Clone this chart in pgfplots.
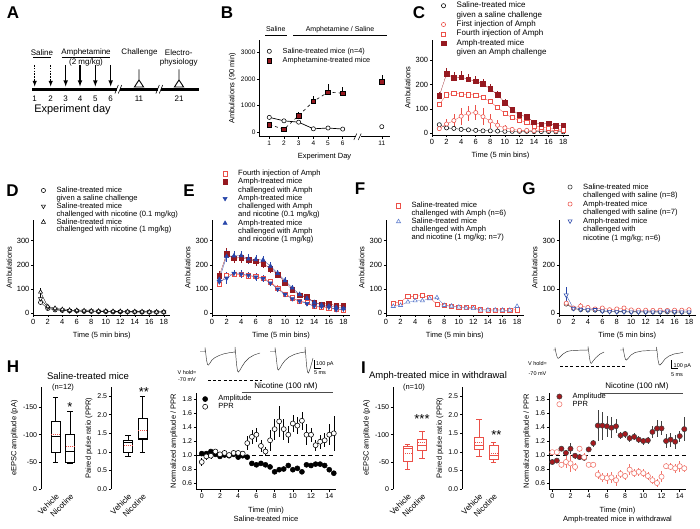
\documentclass[border=0pt]{standalone}
\usepackage{fontspec}
\setmainfont{Liberation Sans}
\usepackage{pgfplots}
\pgfplotsset{compat=1.18}
\usepgfplotslibrary{statistics}
\definecolor{dred}{RGB}{150,25,32}
\definecolor{lred}{RGB}{235,80,72}
\definecolor{mblue}{RGB}{40,70,170}
\definecolor{lblue}{RGB}{95,125,205}
\definecolor{pred}{RGB}{240,115,105}
\definecolor{ired}{RGB}{165,25,30}
\pgfplotsset{
  base/.style={scale only axis, anchor=north west, clip=false,
    axis x line*=bottom, axis y line*=left, tick align=outside,
    major tick length=2.2pt, tick style={black, line width=0.5pt},
    axis line style={black, line width=0.6pt},
    tick label style={font=\fontsize{7}{8}\selectfont, inner sep=1.5pt},
    label style={font=\fontsize{7.5}{9}\selectfont},
    /pgf/number format/assume math mode=true,
    /pgf/number format/1000 sep={},
    legend cell align=left,
    legend image code/.code={\path (-3pt,0pt) (13pt,0pt); \draw[##1] plot[only marks] coordinates {(0pt,0pt)};}},
  leg/.style n args={3}{legend style={at={(#1,#2)}, anchor=north west, draw=none, fill=none, inner sep=0pt, outer sep=0pt, row sep=#3, font=\fontsize{7.6}{8}\selectfont, nodes={inner sep=0pt, text height=5.2pt, text depth=1.3pt}}},
  ser/.style n args={5}{draw=#1, line width=0.3pt, mark=#2, mark size=#3, mark options={solid, draw=#1, fill=#4, line width=0.55pt, #5}, error bars/y dir=both, error bars/y explicit, error bars/error mark=none, error bars/error bar style={draw=#1, line width=0.55pt, solid}},
  amb/.style={base, width=137pt, height=95pt, xmin=0, xmax=18.9, ymin=-7, ymax=385.5, xtick={0,2,...,18}, ytick={0,100,200,300}, xlabel={Time (5 min bins)}, ylabel={Ambulations}, tick label style={font=\fontsize{7.5}{8}\selectfont}, xlabel style={yshift=-2.5pt}},
  boxax/.style={base, boxplot/draw direction=y, xtick={1,2}, xticklabels={Vehicle,Nicotine}, x axis line style={draw=none}, xtick style={draw=none}, xticklabel style={rotate=45, anchor=north east, font=\fontsize{8}{8}\selectfont, inner sep=1pt}},
  ppr/.style={ymin=0, ymax=2.742, ytick={0,0.5,1,1.5,2,2.5}, yticklabel style={/pgf/number format/.cd, fixed, fixed zerofill, precision=1}, ylabel={Paired pulse ratio (PPR)}},
  tc/.style={base, height=96.3pt, ymin=0.51, ymax=1.886, xtick={0,2,...,14}, ytick={0.6,0.8,1.0,1.2,1.4,1.6,1.8}, yticklabel style={/pgf/number format/.cd, fixed, fixed zerofill, precision=1}, ylabel={Normalized amplitude / PPR}, xlabel style={align=center, font=\fontsize{7.5}{9}\selectfont, yshift=-4pt}},
}
\begin{document}
\begin{tikzpicture}
\useasboundingbox (0pt,0pt) rectangle (700pt,-529pt);

% ================= B
\begin{axis}[base, at={(259.3pt,-40pt)}, width=130.4pt, height=96.7pt, xmin=0.32, xmax=9.2, ymin=-177, ymax=3463,
  xtick={1,2,3,4,5,6,8.66}, xticklabels={1,2,3,4,5,6,11}, ytick={0,1000,2000,3000},
  tick label style={font=\fontsize{6.5}{7}\selectfont},
  xlabel={Experiment Day}, xlabel style={yshift=-2.5pt}, ylabel={Ambulations (90 min)}, leg={0.051}{0.917}{2.9pt}, legend style={font=\fontsize{7.3}{8}\selectfont}]
\addplot[ser={black}{*}{2.1pt}{white}{}, line width=0.7pt] coordinates {(1,550)+-(0,0) (2,420)+-(0,0) (3,370)+-(0,0) (4,120)+-(0,0) (5,150)+-(0,0) (6,110)+-(0,0)};
\addlegendentry{Saline-treated mice (n=4)}
\addplot[ser={black}{square*}{2.3pt}{dred}{}, line width=0.6pt, dashed, error bars/y dir=plus] coordinates {(1,280)+-(0,0) (2,100)+-(0,0) (3,620)+-(0,150) (4,1150)+-(0,200) (5,1500)+-(0,300) (6,1460)+-(0,250)};
\addlegendentry{Amphetamine-treated mice}
\addplot[ser={black}{*}{2.1pt}{white}{}, forget plot] coordinates {(8.66,200)+-(0,0)};
\addplot[ser={black}{square*}{2.3pt}{dred}{}, error bars/y dir=plus, forget plot] coordinates {(8.66,1900)+-(0,250)};
\end{axis}

% ================= C
\begin{axis}[base, at={(432pt,-40pt)}, width=137pt, height=95pt, xmin=0, xmax=18.8, ymin=-7, ymax=382,
  xtick={0,2,...,18}, ytick={0,100,200,300}, tick label style={font=\fontsize{7.5}{8}\selectfont}, xlabel style={yshift=-2.5pt},
  xlabel={Time (5 min bins)}, ylabel={Ambulations}, leg={0.061}{1.395}{2.9pt}, legend style={font=\fontsize{8}{8}\selectfont}]
\addplot[ser={black}{*}{2.1pt}{white}{}] coordinates {(1,35)+-(0,6) (2,22)+-(0,4) (3,20)+-(0,4) (4,16)+-(0,3) (5,14)+-(0,3) (6,12)+-(0,3) (7,10)+-(0,3) (8,10)+-(0,3) (9,9)+-(0,2) (10,8)+-(0,2) (11,8)+-(0,2) (12,8)+-(0,2) (13,8)+-(0,2) (14,7)+-(0,2) (15,7)+-(0,2) (16,7)+-(0,2) (17,6)+-(0,2) (18,6)+-(0,2)};
\addlegendentry{Saline-treated mice}
\addlegendimage{empty legend}\addlegendentry{given a saline challenge}
\addplot[ser={lred}{*}{2.1pt}{white}{}] coordinates {(1,19)+-(0,8) (2,38)+-(0,20) (3,52)+-(0,25) (4,70)+-(0,35) (5,82)+-(0,30) (6,85)+-(0,30) (7,68)+-(0,35) (8,50)+-(0,30) (9,33)+-(0,20) (10,22)+-(0,12) (11,16)+-(0,8) (12,12)+-(0,6) (13,12)+-(0,5) (14,10)+-(0,5) (15,15)+-(0,15) (16,12)+-(0,8) (17,10)+-(0,5) (18,10)+-(0,5)};
\addlegendentry{First injection of Amph}
\addplot[ser={lred}{square*}{2.1pt}{white}{}] coordinates {(1,119)+-(0,10) (2,158)+-(0,10) (3,164)+-(0,10) (4,161)+-(0,10) (5,158)+-(0,10) (6,157)+-(0,10) (7,146)+-(0,10) (8,130)+-(0,10) (9,105)+-(0,10) (10,81)+-(0,8) (11,64)+-(0,8) (12,53)+-(0,6) (13,46)+-(0,6) (14,29)+-(0,5) (15,26)+-(0,5) (16,22)+-(0,5) (17,19)+-(0,4) (18,14)+-(0,4)};
\addlegendentry{Fourth injection of Amph}
\addplot[ser={dred}{square*}{2.3pt}{dred}{}, error bars/y dir=plus] coordinates {(1,153)+-(0,15) (2,243)+-(0,25) (3,227)+-(0,25) (4,230)+-(0,25) (5,221)+-(0,22) (6,213)+-(0,22) (7,202)+-(0,20) (8,182)+-(0,20) (9,157)+-(0,18) (10,126)+-(0,15) (11,96)+-(0,12) (12,75)+-(0,10) (13,68)+-(0,10) (14,45)+-(0,8) (15,37)+-(0,8) (16,41)+-(0,8) (17,30)+-(0,6) (18,33)+-(0,6)};
\addlegendentry{Amph-treated mice}
\addlegendimage{empty legend}\addlegendentry{given an Amph challenge}
\end{axis}

% ================= D
\begin{axis}[amb, at={(33.3pt,-220pt)}, leg={0.051}{1.345}{1.4pt}]
\addplot[ser={black}{*}{2.1pt}{white}{}] coordinates {(1,45)+-(0,12) (2,20)+-(0,5) (3,14)+-(0,3) (4,12)+-(0,3) (5,10)+-(0,2) (6,10)+-(0,2) (7,8)+-(0,2) (8,8)+-(0,2) (9,7)+-(0,2) (10,7)+-(0,2) (11,6)+-(0,2) (12,6)+-(0,2) (13,6)+-(0,2) (14,6)+-(0,2) (15,5)+-(0,2) (16,5)+-(0,2) (17,5)+-(0,2) (18,5)+-(0,2)};
\addlegendentry{Saline-treated mice}
\addlegendimage{empty legend}\addlegendentry{given a saline challenge}
\addplot[ser={black}{triangle*}{2.4pt}{white}{rotate=180}] coordinates {(1,60)+-(0,12) (2,25)+-(0,6) (3,17)+-(0,3) (4,13)+-(0,3) (5,11)+-(0,2) (6,10)+-(0,2) (7,9)+-(0,2) (8,9)+-(0,2) (9,8)+-(0,2) (10,8)+-(0,2) (11,7)+-(0,2) (12,7)+-(0,2) (13,6)+-(0,2) (14,6)+-(0,2) (15,6)+-(0,2) (16,6)+-(0,2) (17,5)+-(0,2) (18,5)+-(0,2)};
\addlegendentry{Saline-treated mice}
\addlegendimage{empty legend}\addlegendentry{challenged with nicotine (0.1 mg/kg)}
\addplot[ser={black}{triangle*}{2.4pt}{white}{}] coordinates {(1,88)+-(0,15) (2,28)+-(0,6) (3,21)+-(0,3) (4,16)+-(0,3) (5,13)+-(0,2) (6,12)+-(0,2) (7,11)+-(0,2) (8,10)+-(0,2) (9,9)+-(0,2) (10,9)+-(0,2) (11,8)+-(0,2) (12,8)+-(0,2) (13,7)+-(0,2) (14,7)+-(0,2) (15,7)+-(0,2) (16,6)+-(0,2) (17,6)+-(0,2) (18,6)+-(0,2)};
\addlegendentry{Saline-treated mice}
\addlegendimage{empty legend}\addlegendentry{challenged with nicotine (1 mg/kg)}
\end{axis}

% ================= E
\begin{axis}[amb, at={(212pt,-220pt)}, width=138pt, leg={0.072}{1.521}{1.75pt}]
\addplot[ser={lred}{square*}{2.1pt}{white}{}] coordinates {(1,120)+-(0,12) (2,158)+-(0,12) (3,162)+-(0,12) (4,160)+-(0,12) (5,155)+-(0,12) (6,153)+-(0,12) (7,145)+-(0,12) (8,130)+-(0,10) (9,105)+-(0,10) (10,80)+-(0,8) (11,64)+-(0,8) (12,50)+-(0,6) (13,45)+-(0,6) (14,28)+-(0,5) (15,25)+-(0,5) (16,22)+-(0,5) (17,18)+-(0,4) (18,15)+-(0,4)};
\addlegendentry{Fourth injection of Amph}
\addplot[ser={dred}{square*}{2.3pt}{dred}{}] coordinates {(1,155)+-(0,18) (2,245)+-(0,25) (3,228)+-(0,22) (4,230)+-(0,22) (5,222)+-(0,20) (6,215)+-(0,20) (7,205)+-(0,18) (8,185)+-(0,18) (9,160)+-(0,15) (10,127)+-(0,15) (11,97)+-(0,12) (12,75)+-(0,10) (13,68)+-(0,10) (14,45)+-(0,8) (15,37)+-(0,8) (16,41)+-(0,8) (17,30)+-(0,6) (18,33)+-(0,6)};
\addlegendentry{Amph-treated mice}
\addlegendimage{empty legend}\addlegendentry{challenged with Amph}
\addplot[ser={mblue}{triangle*}{2.4pt}{mblue}{rotate=180}] coordinates {(1,130)+-(0,18) (2,145)+-(0,25) (3,165)+-(0,15) (4,162)+-(0,15) (5,157)+-(0,15) (6,150)+-(0,15) (7,143)+-(0,15) (8,125)+-(0,12) (9,100)+-(0,12) (10,78)+-(0,10) (11,60)+-(0,10) (12,50)+-(0,8) (13,40)+-(0,8) (14,30)+-(0,6) (15,28)+-(0,6) (16,25)+-(0,6) (17,15)+-(0,5) (18,18)+-(0,5)};
\addlegendentry{Amph-treated mice}
\addlegendimage{empty legend}\addlegendentry{challenged with Amph}
\addlegendimage{empty legend}\addlegendentry{and nicotine (0.1 mg/kg)}
\addplot[ser={mblue}{triangle*}{2.4pt}{mblue}{}] coordinates {(1,140)+-(0,18) (2,235)+-(0,25) (3,237)+-(0,22) (4,238)+-(0,20) (5,225)+-(0,20) (6,222)+-(0,18) (7,220)+-(0,18) (8,195)+-(0,18) (9,165)+-(0,15) (10,135)+-(0,15) (11,105)+-(0,12) (12,78)+-(0,10) (13,62)+-(0,10) (14,45)+-(0,8) (15,35)+-(0,8) (16,30)+-(0,6) (17,25)+-(0,6) (18,20)+-(0,5)};
\addlegendentry{Amph-treated mice}
\addlegendimage{empty legend}\addlegendentry{challenged with Amph}
\addlegendimage{empty legend}\addlegendentry{and nicotine (1 mg/kg)}
\end{axis}

% ================= F
\begin{axis}[amb, at={(386pt,-220pt)}, width=137.6pt, leg={0.068}{1.184}{1.4pt}]
\addplot[ser={lred}{square*}{2.1pt}{white}{}] coordinates {(1,42)+-(0,6) (2,47)+-(0,6) (3,70)+-(0,8) (4,70)+-(0,8) (5,74)+-(0,8) (6,65)+-(0,8) (7,37)+-(0,6) (8,33)+-(0,5) (9,28)+-(0,5) (10,26)+-(0,4) (11,25)+-(0,4) (12,24)+-(0,4) (13,15)+-(0,3) (14,14)+-(0,3) (15,14)+-(0,3) (16,13)+-(0,3) (17,13)+-(0,3) (18,15)+-(0,3)};
\addlegendentry{Saline-treated mice}
\addlegendimage{empty legend}\addlegendentry{challenged with Amph (n=6)}
\addplot[ser={lblue}{triangle*}{2.4pt}{white}{}] coordinates {(1,29)+-(0,5) (2,33)+-(0,5) (3,47)+-(0,6) (4,52)+-(0,6) (5,52)+-(0,6) (6,61)+-(0,8) (7,65)+-(0,8) (8,33)+-(0,5) (9,30)+-(0,5) (10,26)+-(0,4) (11,22)+-(0,4) (12,20)+-(0,4) (13,14)+-(0,3) (14,14)+-(0,3) (15,14)+-(0,3) (16,13)+-(0,3) (17,13)+-(0,3) (18,29)+-(0,5)};
\addlegendentry{Saline-treated mice}
\addlegendimage{empty legend}\addlegendentry{challenged with Amph}
\addlegendimage{empty legend}\addlegendentry{and nicotine (1 mg/kg; n=7)}
\end{axis}

% ================= G
\begin{axis}[amb, at={(559pt,-220pt)}, width=136.5pt, leg={0.058}{1.381}{2.0pt}]
\addplot[ser={black!80}{*}{2.1pt}{white}{}] coordinates {(1,38)+-(0,8) (2,20)+-(0,4) (3,15)+-(0,3) (4,14)+-(0,3) (5,13)+-(0,3) (6,10)+-(0,2) (7,9)+-(0,2) (8,8)+-(0,2) (9,8)+-(0,2) (10,7)+-(0,2) (11,7)+-(0,2) (12,6)+-(0,2) (13,6)+-(0,2) (14,6)+-(0,2) (15,6)+-(0,2) (16,5)+-(0,2) (17,5)+-(0,2) (18,5)+-(0,2)};
\addlegendentry{Saline-treated mice}
\addlegendimage{empty legend}\addlegendentry{challenged with saline (n=8)}
\addplot[ser={lred}{*}{2.1pt}{white}{}] coordinates {(1,42)+-(0,8) (2,22)+-(0,5) (3,30)+-(0,12) (4,24)+-(0,6) (5,18)+-(0,5) (6,22)+-(0,6) (7,15)+-(0,4) (8,18)+-(0,6) (9,22)+-(0,8) (10,14)+-(0,4) (11,13)+-(0,4) (12,13)+-(0,4) (13,12)+-(0,3) (14,13)+-(0,4) (15,12)+-(0,3) (16,13)+-(0,4) (17,13)+-(0,3) (18,15)+-(0,4)};
\addlegendentry{Amph-treated mice}
\addlegendimage{empty legend}\addlegendentry{challenged with saline (n=7)}
\addplot[ser={mblue}{triangle*}{2.4pt}{white}{rotate=180}] coordinates {(1,75)+-(0,35) (2,20)+-(0,6) (3,16)+-(0,4) (4,14)+-(0,4) (5,15)+-(0,4) (6,9)+-(0,3) (7,7)+-(0,2) (8,6)+-(0,2) (9,6)+-(0,2) (10,5)+-(0,2) (11,5)+-(0,2) (12,5)+-(0,2) (13,5)+-(0,2) (14,5)+-(0,2) (15,9)+-(0,3) (16,6)+-(0,2) (17,5)+-(0,2) (18,5)+-(0,2)};
\addlegendentry{Amph-treated mice}
\addlegendimage{empty legend}\addlegendentry{challenged with}
\addlegendimage{empty legend}\addlegendentry{nicotine (1 mg/kg; n=6)}
\end{axis}

% ================= H boxes
\begin{axis}[boxax, at={(41pt,-387pt)}, width=37.7pt, height=102.3pt, xmin=0, xmax=2.6, ymin=0, ymax=187.1, ytick={0,50,100,150}, yticklabels={0,-50,-100,-150}, ylabel={eEPSC amplitude (pA)}]
\addplot[black, line width=0.6pt, boxplot prepared={draw position=1, lower whisker=50, lower quartile=67, median=97, upper quartile=124, upper whisker=168, box extend=0.62, whisker extend=0.35}] coordinates {};
\addplot[black, line width=0.6pt, boxplot prepared={draw position=2, lower whisker=47, lower quartile=50, median=70, upper quartile=100, upper whisker=142, box extend=0.62, whisker extend=0.35}] coordinates {};
\addplot[lred, line width=0.9pt, dash pattern=on 1.2pt off 0.8pt] coordinates {(0.7,100) (1.3,100)};
\addplot[lred, line width=0.9pt, dash pattern=on 1.2pt off 0.8pt] coordinates {(1.7,78) (2.3,78)};
\node[font=\fontsize{13}{13}\selectfont] at (axis cs:2,150.5) {*};
\end{axis}
\begin{axis}[boxax, ppr, at={(111pt,-387pt)}, width=40.2pt, height=102pt, xmin=-0.17, xmax=2.6]
\addplot[black, line width=0.6pt, boxplot prepared={draw position=1, lower whisker=0.87, lower quartile=1.0, median=1.26, upper quartile=1.32, upper whisker=1.45, box extend=0.62, whisker extend=0.35}] coordinates {};
\addplot[black, line width=0.6pt, boxplot prepared={draw position=2, lower whisker=1.0, lower quartile=1.34, median=1.36, upper quartile=1.9, upper whisker=2.5, box extend=0.62, whisker extend=0.35}] coordinates {};
\addplot[lred, line width=0.9pt, dash pattern=on 1.2pt off 0.8pt] coordinates {(0.7,1.18) (1.3,1.18)};
\addplot[lred, line width=0.9pt, dash pattern=on 1.2pt off 0.8pt] coordinates {(1.7,1.57) (2.3,1.57)};
\node[font=\fontsize{13}{13}\selectfont] at (axis cs:2.1,2.61) {**};
\end{axis}

% ================= H time course
\begin{axis}[tc, at={(196pt,-393pt)}, width=140pt, xmin=-0.63, xmax=14.74, xlabel={Time (min)\\Saline-treated mice}, leg={0.043}{0.971}{1.2pt}, legend style={font=\fontsize{7.5}{8}\selectfont}]
\addplot[black, line width=0.8pt, dash pattern=on 4pt off 3pt, forget plot] coordinates {(-0.6,1) (14.7,1)};
\addplot[ser={black}{*}{2.5pt}{black}{}, only marks] coordinates {(0,1.02)+-(0,0.02) (0.5,1.02)+-(0,0.02) (1,1.05)+-(0,0.02) (1.5,1.01)+-(0,0.02) (2,0.98)+-(0,0.02) (2.5,1.00)+-(0,0.02) (3,0.99)+-(0,0.02) (3.5,1.01)+-(0,0.02) (4,0.97)+-(0,0.02) (4.5,0.99)+-(0,0.02) (5,0.97)+-(0,0.02) (5.5,0.88)+-(0,0.02) (6,0.86)+-(0,0.02) (6.5,0.88)+-(0,0.02) (7,0.86)+-(0,0.02) (7.5,0.83)+-(0,0.02) (8,0.76)+-(0,0.03) (8.5,0.79)+-(0,0.03) (9,0.80)+-(0,0.03) (9.5,0.85)+-(0,0.03) (10,0.79)+-(0,0.03) (10.5,0.81)+-(0,0.03) (11,0.76)+-(0,0.03) (11.5,0.86)+-(0,0.03) (12,0.85)+-(0,0.03) (12.5,0.87)+-(0,0.02) (13,0.87)+-(0,0.02) (13.5,0.85)+-(0,0.02) (14,0.79)+-(0,0.03) (14.5,0.74)+-(0,0.03)};
\addlegendentry{Amplitude}
\addplot[ser={black}{*}{2.5pt}{white}{}, only marks] coordinates {(0,0.90)+-(0,0.06) (0.5,0.98)+-(0,0.05) (1,0.99)+-(0,0.04) (1.5,1.05)+-(0,0.03) (2,1.01)+-(0,0.03) (2.5,1.03)+-(0,0.03) (3,1.00)+-(0,0.03) (3.5,1.03)+-(0,0.03) (4,1.03)+-(0,0.03) (4.5,1.02)+-(0,0.03) (5,1.17)+-(0,0.1) (5.5,1.26)+-(0,0.1) (6,1.29)+-(0,0.1) (6.5,1.13)+-(0,0.08) (7,1.05)+-(0,0.06) (7.5,1.21)+-(0,0.15) (8,1.37)+-(0,0.15) (8.5,1.48)+-(0,0.22) (9,1.37)+-(0,0.15) (9.5,1.29)+-(0,0.12) (10,1.45)+-(0,0.12) (10.5,1.42)+-(0,0.12) (11,1.49)+-(0,0.13) (11.5,1.29)+-(0,0.15) (12,1.29)+-(0,0.1) (12.5,1.14)+-(0,0.08) (13,1.19)+-(0,0.1) (13.5,1.21)+-(0,0.1) (14,1.29)+-(0,0.15) (14.5,1.31)+-(0,0.25)};
\addlegendentry{PPR}
\end{axis}

% ================= I boxes
\begin{axis}[boxax, at={(393pt,-387pt)}, width=37.7pt, height=102.3pt, xmin=0, xmax=2.6, ymin=0, ymax=187.1, ytick={0,50,100,150}, yticklabels={0,-50,-100,-150}, ylabel={eEPSC amplitude (pA)}]
\addplot[lred, line width=0.6pt, boxplot prepared={draw position=1, lower whisker=37, lower quartile=50.5, median=75, upper quartile=78, upper whisker=83, box extend=0.62, whisker extend=0.35}] coordinates {};
\addplot[lred, line width=0.6pt, boxplot prepared={draw position=2, lower whisker=57, lower quartile=70.6, median=81, upper quartile=91.4, upper whisker=106.6, box extend=0.62, whisker extend=0.35}] coordinates {};
\addplot[lred, line width=0.8pt, dash pattern=on 1.2pt off 0.8pt] coordinates {(0.7,66) (1.3,66)};
\addplot[lred, line width=0.8pt, dash pattern=on 1.2pt off 0.8pt] coordinates {(1.7,85) (2.3,85)};
\node[font=\fontsize{13}{13}\selectfont] at (axis cs:2,128.6) {***};
\end{axis}
\begin{axis}[boxax, ppr, at={(462pt,-387pt)}, width=40.2pt, height=102pt, xmin=-0.17, xmax=2.6]
\addplot[lred, line width=0.6pt, boxplot prepared={draw position=1, lower whisker=0.89, lower quartile=1.07, median=1.18, upper quartile=1.39, upper whisker=1.88, box extend=0.62, whisker extend=0.35}] coordinates {};
\addplot[lred, line width=0.6pt, boxplot prepared={draw position=2, lower whisker=0.71, lower quartile=0.81, median=0.91, upper quartile=1.18, upper whisker=1.25, box extend=0.62, whisker extend=0.35}] coordinates {};
\addplot[lred, line width=0.8pt, dash pattern=on 1.2pt off 0.8pt] coordinates {(0.7,1.25) (1.3,1.25)};
\addplot[lred, line width=0.8pt, dash pattern=on 1.2pt off 0.8pt] coordinates {(1.7,0.96) (2.3,0.96)};
\node[font=\fontsize{13}{13}\selectfont] at (axis cs:2.2,1.45) {**};
\end{axis}

% ================= I time course
\begin{axis}[tc, at={(549pt,-393pt)}, width=137pt, xmin=-0.36, xmax=14.69, xlabel={Time (min)\\Amph-treated mice in withdrawal}, leg={0.053}{0.997}{1.2pt}, legend style={font=\fontsize{7.5}{8}\selectfont}]
\addplot[black, line width=0.8pt, dash pattern=on 4pt off 3pt, forget plot] coordinates {(-0.35,1) (14.65,1)};
\addplot[ser={black!75}{*}{2.6pt}{ired}{}, only marks] coordinates {(0,0.90)+-(0,0.03) (0.5,0.92)+-(0,0.03) (1,1.09)+-(0,0.03) (1.5,1.03)+-(0,0.04) (2,1.09)+-(0,0.08) (2.5,0.99)+-(0,0.04) (3,0.97)+-(0,0.04) (3.5,0.96)+-(0,0.04) (4,1.08)+-(0,0.04) (4.5,1.17)+-(0,0.05) (5,1.42)+-(0,0.22) (5.5,1.42)+-(0,0.2) (6,1.41)+-(0,0.15) (6.5,1.39)+-(0,0.15) (7,1.41)+-(0,0.1) (7.5,1.28)+-(0,0.05) (8,1.30)+-(0,0.05) (8.5,1.24)+-(0,0.05) (9,1.26)+-(0,0.05) (9.5,1.22)+-(0,0.05) (10,1.20)+-(0,0.05) (10.5,1.21)+-(0,0.05) (11,1.33)+-(0,0.08) (11.5,1.38)+-(0,0.12) (12,1.38)+-(0,0.1) (12.5,1.20)+-(0,0.1) (13,1.22)+-(0,0.1) (13.5,1.19)+-(0,0.1) (14,1.27)+-(0,0.08) (14.5,1.37)+-(0,0.17)};
\addlegendentry{Amplitude}
\addplot[ser={pred}{*}{2.6pt}{white}{}, only marks] coordinates {(0,1.04)+-(0,0.03) (0.5,1.04)+-(0,0.03) (1,0.86)+-(0,0.04) (1.5,0.90)+-(0,0.08) (2,0.88)+-(0,0.12) (2.5,0.83)+-(0,0.06) (3,1.09)+-(0,0.04) (3.5,0.97)+-(0,0.06) (4,0.86)+-(0,0.03) (4.5,0.86)+-(0,0.03) (5,0.72)+-(0,0.06) (5.5,0.68)+-(0,0.06) (6,0.67)+-(0,0.08) (6.5,0.68)+-(0,0.08) (7,0.64)+-(0,0.08) (7.5,0.73)+-(0,0.06) (8,0.70)+-(0,0.05) (8.5,0.79)+-(0,0.08) (9,0.74)+-(0,0.06) (9.5,0.76)+-(0,0.06) (10,0.74)+-(0,0.06) (10.5,0.70)+-(0,0.06) (11,0.64)+-(0,0.06) (11.5,0.60)+-(0,0.06) (12,0.69)+-(0,0.08) (12.5,0.84)+-(0,0.04) (13,0.83)+-(0,0.05) (13.5,0.81)+-(0,0.06) (14,0.84)+-(0,0.08) (14.5,0.81)+-(0,0.05)};
\addlegendentry{PPR}
\end{axis}

% ================= traces (page-pixel axis)
\begin{axis}[at={(0pt,-529pt)}, anchor=south west, scale only axis, width=700pt, height=529pt, xmin=0, xmax=700, ymin=0, ymax=529, y dir=reverse, hide axis, clip=false]
\addplot[black!80, line width=0.45pt] coordinates {(200,351.5) (205,351.5) (205,347.5) (205.6,352) (206.5,360) (207.5,364.5) (208.5,365) (210,363) (212,360) (215,357.5) (219,355.5) (224,353.8) (230,352.6) (235,352) (235,347) (235.6,353) (236.5,364) (237.5,371) (238.5,372) (240,370) (242,366.5) (245,362) (249,358) (254,355) (260,353)};
\addplot[black!80, line width=0.45pt] coordinates {(270,351.5) (275,351.5) (275,347.5) (275.6,352) (276.5,360) (277.5,369) (278.5,370) (280,368) (282,364.5) (285,360.5) (289,357) (294,354.5) (300,352.8) (305,352) (305,347) (305.6,353) (306.5,365) (307.5,372) (308.5,373) (310,369) (312,362) (313,358)};
\addplot[black, line width=0.8pt, dash pattern=on 3pt off 2.2pt] coordinates {(208,380) (262,380)};
\addplot[black, line width=0.5pt] coordinates {(314.5,360) (314.5,368.3) (320.5,368.3)};
\addplot[black!80, line width=0.45pt] coordinates {(553,350) (555,350) (555,347.5) (555.6,351) (556.5,355) (557.5,358) (558.5,358.3) (560,357) (563,354) (567,351.5) (572,350.5) (580,350.2) (588,350) (588,346.5) (588.6,351) (589.5,358) (590.5,363) (591.5,363.3) (593,361) (596,357.5) (600,354) (604,352)};
\addplot[black!80, line width=0.45pt] coordinates {(620,350) (623,350) (623,347.5) (623.6,351) (624.5,356) (625.5,359.5) (626.5,360) (628,358.5) (631,355) (635,352.5) (642,351) (650,350.5) (656.5,350.5) (656.5,347) (657.1,352) (658,360) (659,364.5) (660,365) (662,363) (665,359) (669,356) (674,354) (683,352.5)};
\addplot[black, line width=0.8pt, dash pattern=on 3pt off 2.2pt] coordinates {(560,366.7) (626.7,366.7)};
\addplot[black, line width=0.5pt] coordinates {(671.7,360) (671.7,368.3) (678.3,368.3)};
\end{axis}

% ================= annotations in pixel coordinates
\begin{scope}[x=1pt,y=-1pt]
\tikzset{pl/.style={font=\bfseries\fontsize{17}{17}\selectfont}}
\node[pl] at (13,12.5) {A};
\node[pl] at (227,12.5) {B};
\node[pl] at (419,12.5) {C};
\node[pl] at (12.5,191) {D};
\node[pl] at (189,191) {E};
\node[pl] at (360,189) {F};
\node[pl] at (529,189) {G};
\node[pl] at (13,367) {H};
\node[pl] at (363.5,368) {I};
% --- A schematic
\draw[line width=2.6pt] (32.3,89.3) -- (116.6,89.3) (120,89.3) -- (157.6,89.3) (161,89.3) -- (199.3,89.3);
\draw[line width=0.6pt] (114.9,93.5) -- (118.3,85) (118.3,93.5) -- (121.7,85);
\draw[line width=0.6pt] (155.9,93.5) -- (159.3,85) (159.3,93.5) -- (162.7,85);
\foreach \x/\l in {34.7/1,50.7/2,65.7/3,80/4,95.3/5,110.7/6,139/11,179/21}
  \node[font=\fontsize{8}{9}\selectfont] at (\x,98.5) {\l};
\foreach \x in {34.7,50.7}
  \draw[line width=0.9pt, dash pattern=on 1.6pt off 1.2pt, -latex] (\x,65) -- (\x,86.5);
\foreach \x in {65.7,80,95.3,110.7}
  \draw[line width=1.1pt, -latex] (\x,65) -- (\x,86.5);
\foreach \x in {139,179}
  \draw[line width=0.9pt] (\x,69.3) -- (\x,80) (\x,80) -- (\x-4.6,87) -- (\x+4.6,87) -- cycle;
\begin{scope}[every node/.style={font=\fontsize{8}{9}\selectfont}]
\node at (42,52.3) {Saline};
\draw[line width=0.5pt] (33,57.5) -- (51,57.5);
\node at (86,52.3) {Amphetamine};
\draw[line width=0.5pt] (61.7,57.5) -- (110,57.5);
\node at (86,62.5) {(2 mg/kg)};
\node at (139.5,52.3) {Challenge};
\node at (178.7,52.3) {Electro-};
\node at (178.7,62.5) {physiology};
\end{scope}
\node[font=\fontsize{11}{12}\selectfont] at (72.5,110) {Experiment day};
% --- B header and break
\begin{scope}[every node/.style={font=\fontsize{7}{8}\selectfont}]
\node at (275.8,29.3) {Saline};
\draw[line width=0.5pt] (265,35) -- (286.7,35);
\node at (340,29.3) {Amphetamine / Saline};
\draw[line width=0.5pt] (293.3,35) -- (386.7,35);
\end{scope}
\fill[white] (355.5,134) rectangle (360.5,139.5);
\draw[line width=0.5pt] (353.8,140) -- (356.8,133.5) (358.2,140) -- (361.2,133.5);
% --- H / I titles
\node[font=\fontsize{9.5}{10}\selectfont] at (88,376) {Saline-treated mice};
\node[font=\fontsize{7.5}{8}\selectfont] at (63,388) {(n=12)};
\node[font=\fontsize{9.5}{10}\selectfont] at (438,376) {Amph-treated mice in withdrawal};
\node[font=\fontsize{7.5}{8}\selectfont] at (414,388) {(n=10)};
% --- nicotine bars
\node[font=\fontsize{8}{9}\selectfont] at (286,386.3) {Nicotine (100 nM)};
\draw[black!70, line width=0.8pt] (241.7,392.7) -- (333,392.7);
\node[font=\fontsize{8}{9}\selectfont] at (637,386.5) {Nicotine (100 nM)};
\draw[black!70, line width=0.8pt] (600,393.3) -- (683,393.3);
% --- trace labels
\begin{scope}[every node/.style={font=\fontsize{5.5}{6}\selectfont, inner sep=0.5pt}]
\node at (187,372.7) {V hold=};
\node at (187,380) {-70 mV};
\node[anchor=west] at (315.5,364.3) {100 pA};
\node at (320,372.5) {5 ms};
\node at (537.5,363.3) {V hold=};
\node at (537.5,374) {-70 mV};
\node[anchor=west] at (673,365.7) {100 pA};
\node at (677,375) {5 ms};
\end{scope}
\end{scope}
\end{tikzpicture}
\end{document}
